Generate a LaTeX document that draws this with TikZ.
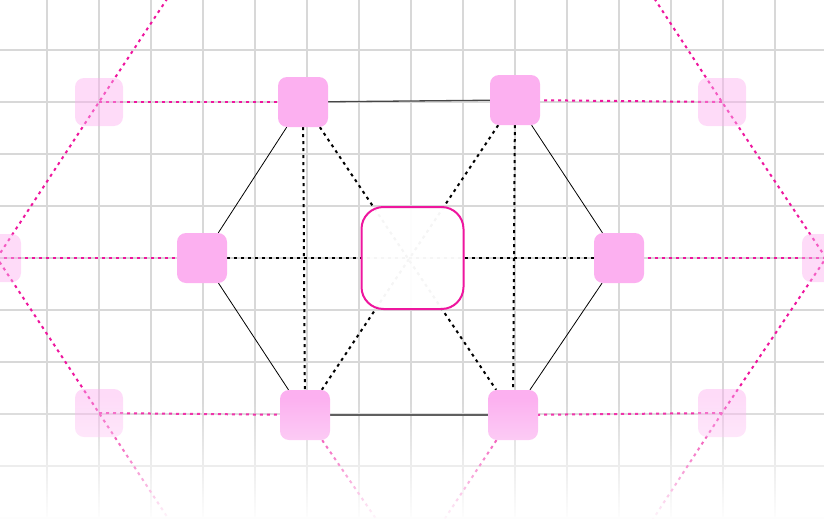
\documentclass[tikz,border=0pt]{standalone}
\usetikzlibrary{fadings}
\definecolor{nodepink}{RGB}{252,176,240}
\definecolor{hotpink}{RGB}{238,22,158}
\definecolor{gridgray}{RGB}{216,216,216}
\definecolor{basegray}{RGB}{70,70,70}
\tikzfading[name=fadebottom, top color=transparent!100, bottom color=transparent!0]
\pgfdeclarelayer{gridlayer}
\pgfdeclarelayer{linklayer}
\pgfdeclarelayer{fadelayer}
\pgfsetlayers{gridlayer,linklayer,main,fadelayer}
\begin{document}
\begin{tikzpicture}[x=1pt,y=-1pt,
  hexnode/.style={rectangle, rounded corners=9pt, fill=nodepink, minimum size=50pt, inner sep=0pt},
  ghostnode/.style={rectangle, rounded corners=9pt, fill=nodepink, fill opacity=0.45, minimum size=48pt, inner sep=0pt},
  hubnode/.style={rectangle, rounded corners=22pt, draw=hotpink, line width=2pt, fill=white, fill opacity=0.96, draw opacity=1, minimum size=102pt, inner sep=0pt},
  gridline/.style={gridgray, line width=1.3pt},
  hublink/.style={black, line width=2pt, dash pattern=on 3pt off 4pt},
  outerlink/.style={hotpink, line width=2pt, dash pattern=on 3pt off 4pt},
  rimlink/.style={black, line width=0.8pt},
  baselink/.style={basegray, line width=1.3pt}
]
\useasboundingbox (0,0) rectangle (824,519);
\clip (0,0) rectangle (824,519);
% grid
\begin{pgfonlayer}{gridlayer}
\foreach \gx in {47,99,...,775} \draw[gridline] (\gx,0) -- (\gx,519);
\foreach \gy in {50,102,...,518} \draw[gridline] (0,\gy) -- (824,\gy);
\end{pgfonlayer}
% off-canvas lattice points
\coordinate (otl) at (202,-54);
\coordinate (otr) at (620,-54);
\coordinate (obl) at (202,570);
\coordinate (obr) at (620,570);
\coordinate (obot) at (411,570);
% ghost nodes
\node[ghostnode] (gtl) at (99,102) {};
\node[ghostnode] (gtr) at (722,102) {};
\node[ghostnode] (gml) at (-3,258) {};
\node[ghostnode] (gmr) at (826,258) {};
\node[ghostnode] (gbl) at (99,413) {};
\node[ghostnode] (gbr) at (722,413) {};
% hexagon nodes
\node[hexnode] (tl) at (303,102) {};
\node[hexnode] (tr) at (515,100) {};
\node[hexnode] (ml) at (202,258) {};
\node[hexnode] (mr) at (619,258) {};
\node[hexnode] (bl) at (305,415) {};
\node[hexnode] (br) at (513,415) {};
% hub
\node[hubnode] (hub) at (412.5,258) {};
% links
\begin{pgfonlayer}{linklayer}
\draw[outerlink] (otl) -- (gtl.center) -- (gml.center) -- (gbl.center) -- (obl);
\draw[outerlink] (otr) -- (gtr.center) -- (gmr.center) -- (gbr.center) -- (obr);
\draw[outerlink] (gtl.center) -- (tl);
\draw[outerlink] (gml.center) -- (ml);
\draw[outerlink] (gbl.center) -- (bl);
\draw[outerlink] (gtr.center) -- (tr);
\draw[outerlink] (gmr.center) -- (mr);
\draw[outerlink] (gbr.center) -- (br);
\draw[outerlink] (bl) -- (obot);
\draw[outerlink] (br) -- (obot);
\draw[hublink] (tl) -- (bl);
\draw[hublink] (tr) -- (br);
\draw[hublink] (ml) -- (mr);
\draw[hublink] (tl) -- (br);
\draw[hublink] (tr) -- (bl);
\draw[baselink] (tl) -- (tr);
\draw[baselink] (bl) -- (br);
\draw[rimlink] (tl) -- (ml);
\draw[rimlink] (ml) -- (bl);
\draw[rimlink] (tr) -- (mr);
\draw[rimlink] (mr) -- (br);
\end{pgfonlayer}
% bottom fade
\begin{pgfonlayer}{fadelayer}
\fill[white, path fading=fadebottom] (-10,397) rectangle (834,522);
\end{pgfonlayer}
\end{tikzpicture}
\end{document}
